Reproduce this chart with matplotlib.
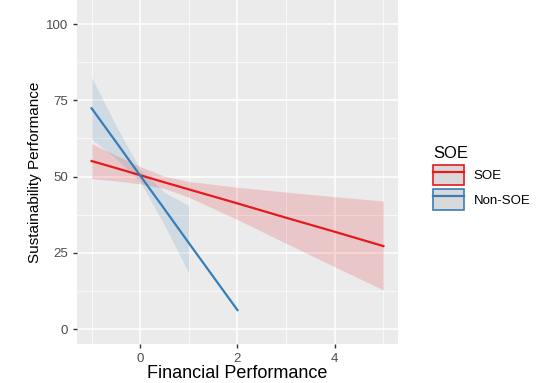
import matplotlib.pyplot as plt
from matplotlib.patches import Patch
from matplotlib.lines import Line2D

plt.rcParams['font.family'] = ['Liberation Sans', 'DejaVu Sans']

# SOE fitted line and confidence band
soe_x = [-1, -0.5, 0, 0.5, 1, 2, 3, 4, 5]
soe_fit = [55.1, 52.8, 50.45, 48.1, 45.8, 41.2, 36.5, 31.9, 27.2]
soe_lo = [49.3, 48.6, 47.6, 46.1, 43.2, 35.9, 28.1, 20.4, 12.8]
soe_hi = [60.8, 57.0, 53.3, 50.1, 48.4, 46.5, 44.9, 43.4, 42.0]

# Non-SOE fitted line and confidence band
non_x = [-1, -0.5, 0, 0.5, 1, 2]
non_fit = [72.4, 61.4, 50.3, 39.3, 28.2, 6.2]
band_x = [-1, -0.5, 0, 0.5, 1]
non_lo = [62.3, 56.0, 48.3, 34.0, 18.3]
non_hi = [82.5, 66.8, 52.3, 44.8, 40.5]

labels = ['SOE', 'Non-SOE']
red = '#E41A1C'
blue = '#377EB8'

fig = plt.figure(figsize=(5.45, 3.83), dpi=100)
ax = fig.add_axes([77/545, 39/383, 321/545, 344/383])
ax.set_facecolor('#EBEBEB')

ax.fill_between(soe_x, soe_lo, soe_hi, color=red, alpha=0.17, lw=0, zorder=2)
ax.fill_between(band_x, non_lo, non_hi, color=blue, alpha=0.15, lw=0, zorder=2)
ax.plot(soe_x, soe_fit, color=red, lw=1.6, zorder=3)
ax.plot(non_x, non_fit, color=blue, lw=1.6, zorder=3)

ax.set_xlim(-1.3, 5.3)
ax.set_ylim(-4.9, 107.9)
ax.set_xticks([0, 2, 4])
ax.set_yticks([0, 25, 50, 75, 100])
ax.set_xticks([-1, 1, 3, 5], minor=True)
ax.set_yticks([12.5, 37.5, 62.5, 87.5], minor=True)
ax.grid(which='major', color='white', lw=1.1, zorder=1)
ax.grid(which='minor', color='white', lw=0.5, zorder=1)
ax.set_axisbelow(True)
for s in ax.spines.values():
    s.set_visible(False)
ax.tick_params(which='major', colors='#333333', labelcolor='#4D4D4D',
               labelsize=9.5, length=3, width=1)
ax.tick_params(which='minor', length=0)

ax.set_xlabel('Financial Performance', fontsize=13, labelpad=0)
ax.set_ylabel('Sustainability Performance', fontsize=11, labelpad=3)

handles = [
    (Patch(facecolor='#D9D9D9', edgecolor=red, lw=1.2), Line2D([], [], color=red, lw=1.6)),
    (Patch(facecolor='#D9D9D9', edgecolor=blue, lw=1.2), Line2D([], [], color=blue, lw=1.6)),
]
leg = fig.legend(handles, labels, title='SOE', loc='upper left',
                 bbox_to_anchor=(421/545, 1 - 134/383), frameon=False,
                 fontsize=9.5, title_fontsize=12, handlelength=2.35,
                 handleheight=2.0, labelspacing=0.3, handletextpad=0.75,
                 alignment='left')

fig.savefig('out.png', dpi=100)
